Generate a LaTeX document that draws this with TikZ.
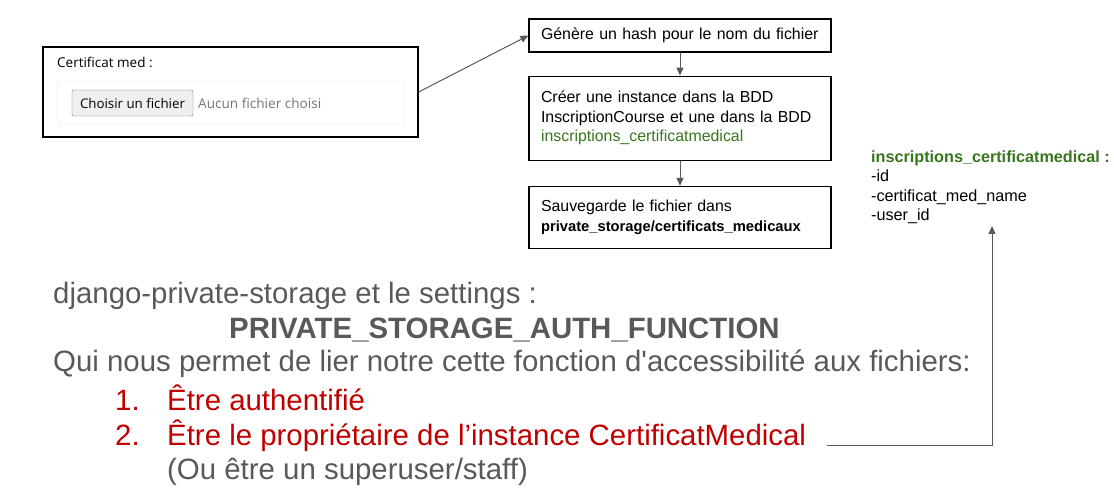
\documentclass[tikz,border=0pt]{standalone}
\usepackage{fontspec}
\setmainfont{Liberation Sans}
\newfontfamily\uifont{Open Sans}
\usetikzlibrary{arrows.meta,positioning}
\definecolor{tgray}{HTML}{595959}
\definecolor{tgreen}{HTML}{38761D}
\definecolor{tred}{HTML}{C00000}
\definecolor{agray}{HTML}{595959}
\definecolor{uiline}{HTML}{DEE2E6}
\definecolor{uitext}{HTML}{6C757D}
\definecolor{btnfill}{HTML}{EFEFEF}
\definecolor{btndraw}{HTML}{767676}
\tikzset{
  % flow boxes on the right
  stepbox/.style = {rectangle, draw=black, line width=1.2pt, text width=278pt,
                    inner xsep=12pt, inner ysep=0pt, align=left,
                    font=\fontsize{15.9}{19.5}\selectfont},
  flow/.style    = {-{Triangle[length=8pt,width=7pt]}, line width=1pt, agray},
  big/.style     = {anchor=base west, inner sep=0pt, text=tgray,
                    font=\fontsize{29.4}{33}\selectfont},
  item/.style    = {anchor=base west, inner sep=0pt, text=tred,
                    font=\fontsize{29.4}{33}\selectfont},
  field/.style   = {anchor=base west, inner sep=0pt, font=\fontsize{16.2}{18}\selectfont},
}
\begin{document}
\begin{tikzpicture}[x=1pt,y=-1pt]
\useasboundingbox (0,0) rectangle (1114,494);
% --- upload form ---------------------------------------------------------
\node[draw=black, line width=1.4pt, minimum width=375pt, minimum height=90pt,
      inner sep=0pt] (form) at (230.5,92) {};
\node[anchor=base west, inner sep=0pt, font=\uifont\fontsize{13.5}{15}\selectfont]
  (formlbl) at (57,68) {Certificat med :};
\draw[uiline, rounded corners=4pt] (57,81) rectangle (405,124);
\node[draw=btndraw, fill=btnfill, rounded corners=1.5pt, minimum width=121pt,
      minimum height=26pt, inner sep=0pt, font=\uifont\fontsize{13.3}{15}\selectfont]
  (choose) at (132.5,103) {Choisir un fichier};
\node[anchor=west, inner sep=0pt, text=uitext, font=\uifont\fontsize{13.6}{15}\selectfont]
  (nofile) at (198,103) {Aucun fichier choisi};
% --- steps -----------------------------------------------------------------
\node[stepbox, minimum height=33pt] (hash) at (680,35.5)
  {Génère un hash pour le nom du fichier};
\node[stepbox, minimum height=84pt, below=23pt of hash] (inst)
  {Créer une instance dans la BDD\\InscriptionCourse et une dans la BDD\\
   \textcolor{tgreen}{inscriptions\_certificatmedical}};
\node[stepbox, minimum height=62pt, below=25pt of inst] (save)
  {Sauvegarde le fichier dans\\
   {\bfseries\fontsize{14.75}{19.5}\selectfont private\_storage/certificats\_medicaux}};
\draw[flow] (form.east) -- (hash.west);
\draw[flow] (hash) -- (inst);
\draw[flow] (inst) -- (save);
% --- table fields ----------------------------------------------------------
\node[field, text=tgreen, font=\bfseries\fontsize{16.2}{18}\selectfont] (tbl) at (871,163)
  {inscriptions\_certificatmedical :};
\node[field] (fid) at (871,182) {-id};
\node[field] (fname) at (871,202) {-certificat\_med\_name};
\node[field] (fuser) at (871,221) {-user\_id};
\coordinate (tbltip) at (992,226);
% --- explanation -------------------------------------------------------------
\node[big] (lib) at (53,304) {django-private-storage et le settings :};
\node[big, font=\bfseries\fontsize{29.4}{33}\selectfont] (setting) at (229,338)
  {PRIVATE\_STORAGE\_AUTH\_FUNCTION};
\node[big] (expl) at (53,371)
  {Qui nous permet de lier notre cette fonction d\textquotesingle accessibilité aux fichiers:};
\node[item] (num1) at (115,410) {1.};
\node[item] (item1) at (167,410) {Être authentifié};
\node[item] (num2) at (115,445) {2.};
\node[item] (item2) at (167,445) {Être le propriétaire de l’instance CertificatMedical};
\node[big] (note) at (167,479) {(Ou être un superuser/staff)};
\draw[flow] ([shift={(21pt,0pt)}]item2.base east) -| (tbltip);
\end{tikzpicture}
\end{document}
